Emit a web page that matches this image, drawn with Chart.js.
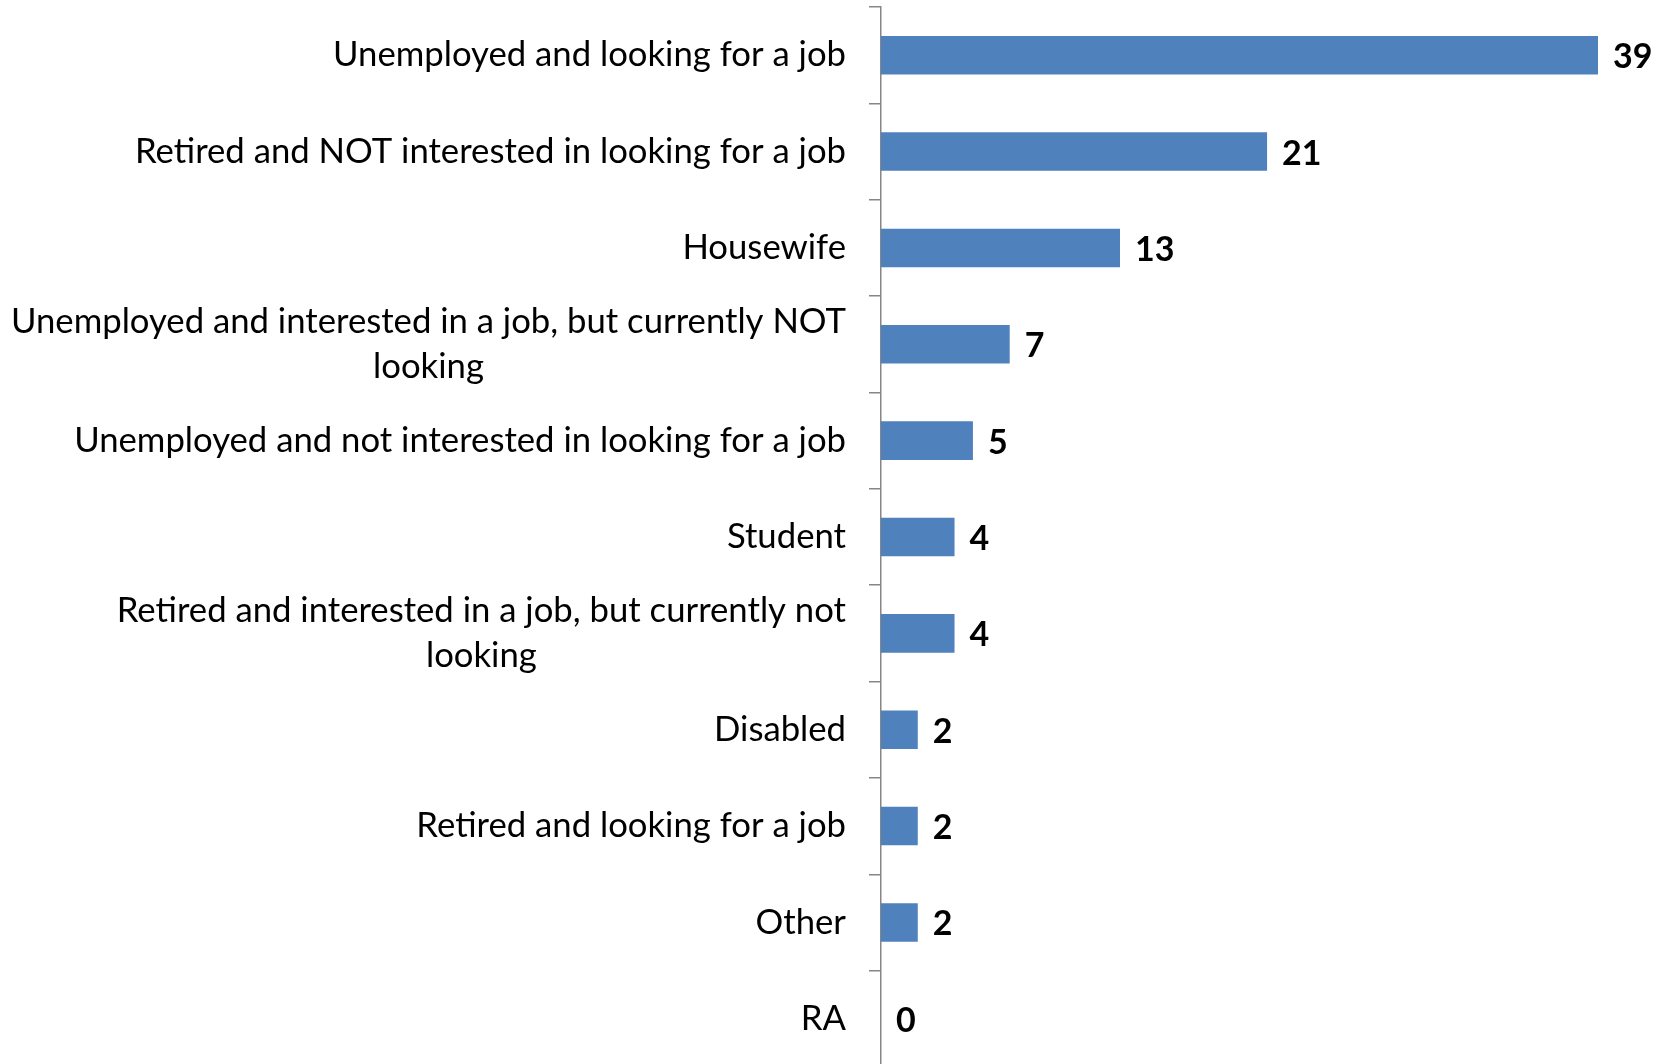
<!DOCTYPE html>
<html lang="en">
<head>
  <meta charset="UTF-8" />
  <title>Employment status</title>
  <script src="https://cdn.jsdelivr.net/npm/chart.js"></script>
  <style>
    html, body { margin: 0; padding: 0; background: #ffffff; overflow: hidden; }
    #wrap { width: 1665px; height: 1067px; position: relative; }
  </style>
</head>
<body>
  <div id="wrap">
    <canvas id="barChart"></canvas>
  </div>

  <script>
    const categories = [
      'Unemployed and looking for a job',
      'Retired and NOT interested in looking for a job',
      'Housewife',
      ['Unemployed and interested in a job, but currently NOT', 'looking'],
      'Unemployed and not interested in looking for a job',
      'Student',
      ['Retired and interested in a job, but currently not', 'looking'],
      'Disabled',
      'Retired and looking for a job',
      'Other',
      'RA'
    ];
    const values = [39, 21, 13, 7, 5, 4, 4, 2, 2, 2, 0];

    const labelFont = '34.7px Lato, "Open Sans", sans-serif';
    const valueFont = 'bold 34px Lato, "Open Sans", sans-serif';

    // category labels: right aligned block, lines centred inside it (like Excel)
    const labelsPlugin = {
      id: 'labelsPlugin',
      afterDraw(chart) {
        const ctx = chart.ctx;
        const yScale = chart.scales.y;
        ctx.save();
        ctx.fillStyle = '#000000';
        ctx.textBaseline = 'middle';

        ctx.font = labelFont;
        ctx.textAlign = 'center';
        categories.forEach((lab, i) => {
          const lines = Array.isArray(lab) ? lab : [lab];
          const w = Math.max(...lines.map(l => ctx.measureText(l).width));
          const cx = yScale.left + yScale.width - 35 - w / 2;
          const cy = yScale.getPixelForValue(i);
          lines.forEach((line, j) => {
            ctx.fillText(line, cx, cy + (j - (lines.length - 1) / 2) * 44.6);
          });
        });

        ctx.font = valueFont;
        ctx.textAlign = 'left';
        chart.getDatasetMeta(0).data.forEach((bar, i) => {
          ctx.fillText(values[i], bar.x + 15, bar.y + 2);
        });
        ctx.restore();
      }
    };

    new Chart(document.getElementById('barChart'), {
      type: 'bar',
      data: {
        labels: categories,
        datasets: [{
          data: values,
          backgroundColor: '#4F81BD',
          borderWidth: 0,
          categoryPercentage: 1,
          barPercentage: 0.4
        }]
      },
      options: {
        indexAxis: 'y',
        responsive: true,
        maintainAspectRatio: false,
        animation: false,
        layout: { padding: { top: 7, right: 67, bottom: 0, left: 0 } },
        plugins: {
          legend: { display: false },
          tooltip: { enabled: false }
        },
        scales: {
          x: { display: false, min: 0, max: 39 },
          y: {
            grid: {
              offset: true,
              drawOnChartArea: false,
              drawTicks: true,
              tickLength: 12,
              color: '#868686',
              lineWidth: 1.5
            },
            border: { color: '#868686', width: 1.5 },
            ticks: { display: false },
            afterFit(scale) { scale.width = 881; }
          }
        }
      },
      plugins: [labelsPlugin]
    });
  </script>
</body>
</html>
